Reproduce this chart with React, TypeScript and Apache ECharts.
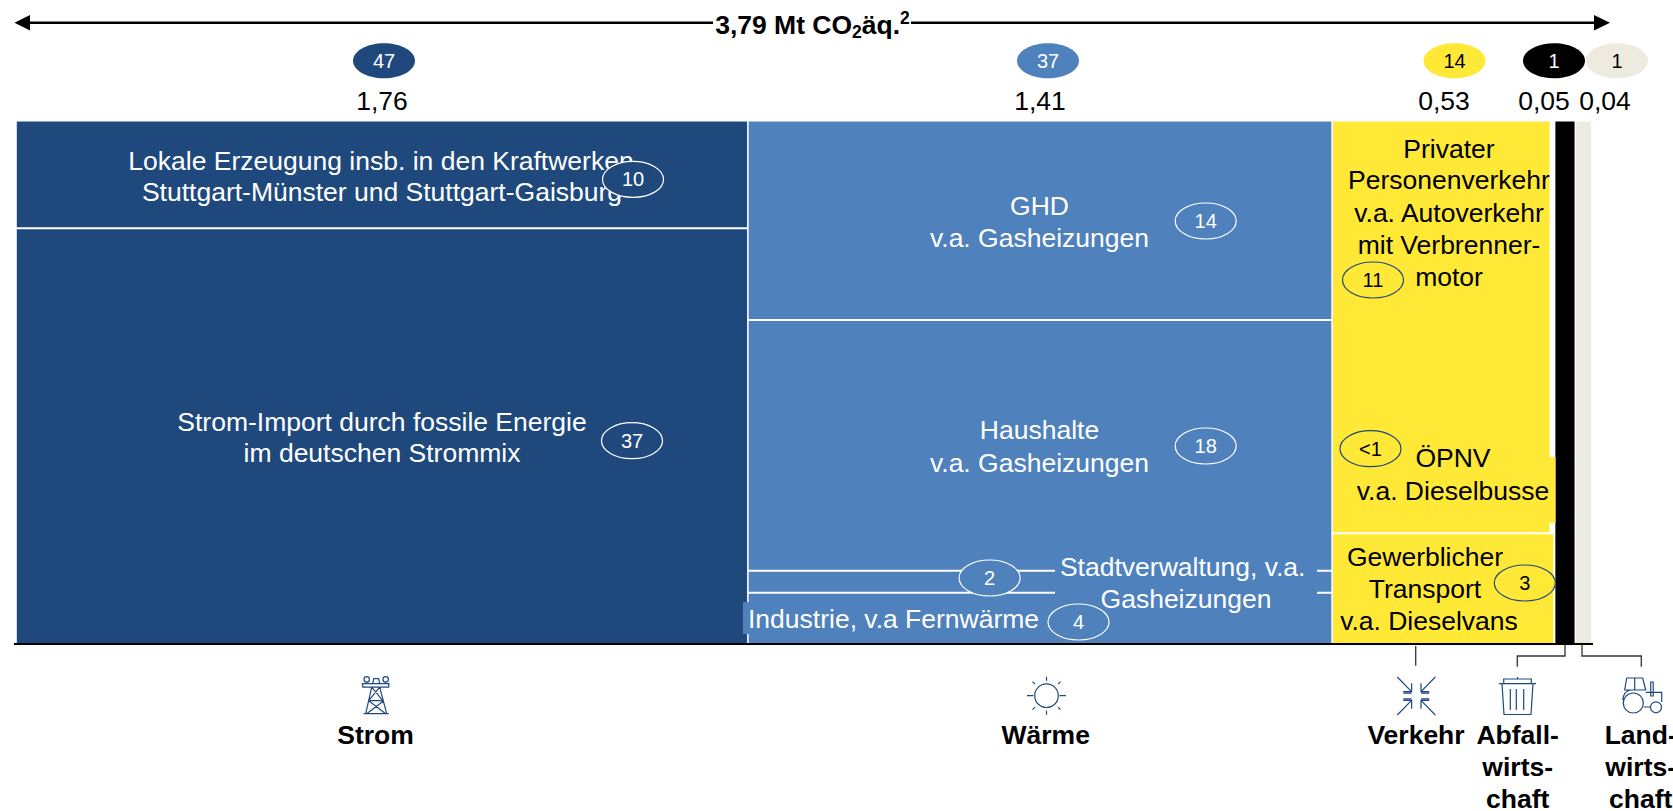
import React, { useEffect, useRef } from "react";
import * as echarts from "echarts";

const categories = ["Strom", "Wärme", "Verkehr", "Abfall-\nwirts-\nchaft", "Land-\nwirts-\nchaft"];
const totals = ["1,76", "1,41", "0,53", "0,05", "0,04"];
const shares = ["47", "37", "14", "1", "1"];
const columnWidths = [1.76, 1.405, 0.535, 0.05, 0.04];
const stromShares = [79.6, 20.4];
const waermeShares = [9.8, 4.2, 48, 38];
const verkehrShares = [21.2, 78.8];
const verkehrWidths = [0.534, 0.525];
const singleShare = [100];
const totalLabel = "3,79 Mt CO";

const DARK = "#1F497D", BLUE = "#4F81BD", YELLOW = "#FFE936", BEIGE = "#EDEBE0", BLACK = "#000000";
const FF = '"Liberation Sans", Arial, sans-serif';
const FS = 26.5;
const GRID = { left: 16, top: 121.6, width: 1576, height: 522.4 };

const columnShares = [stromShares, waermeShares, verkehrShares, singleShare, singleShare];
const columnColors = [DARK, BLUE, YELLOW, BLACK, BEIGE];

function buildSegments() {
  const out: number[][] = [];
  let x = 0;
  columnWidths.forEach((w, c) => {
    let y = 0;
    columnShares[c].forEach((s, i) => {
      const segW = c === 2 ? verkehrWidths[i] : w;
      out.push([x, x + segW, y, y + s, c]);
      y += s;
    });
    x += w;
  });
  return out;
}

const txt = (text: string, x: number, y: number, fill = "#000", size = FS, extra: any = {}) => ({
  type: "text", z: 20,
  style: { text, x, y, fill, font: `${extra.weight || "normal"} ${size}px ${FF}`, align: extra.align || "center", verticalAlign: "middle" },
});

const ell = (cx: number, cy: number, rx: number, ry: number, fill: string, stroke?: string, z = 20) => ({
  type: "ellipse", z, shape: { cx, cy, rx, ry },
  style: { fill, stroke: stroke || "none", lineWidth: stroke ? 1.2 : 0 },
});

const ann = (label: string, cx: number, cy: number, fill: string, stroke: string, color: string) => [
  ell(cx, cy, 30.5, 18, fill, stroke, 21),
  { ...txt(label, cx, cy, color, 20), z: 22 },
];

const seg = (x1: number, y1: number, x2: number, y2: number, stroke = "#333", lineWidth = 1.3) => ({
  type: "line", z: 20, shape: { x1, y1, x2, y2 }, style: { stroke, lineWidth },
});

const ICONS: Record<string, string> = {
  towerIcon:
    "M2.3 2.7a2.7 2.7 0 1 0 5.4 0a2.7 2.7 0 1 0 -5.4 0Z M21.3 2.7a2.7 2.7 0 1 0 5.4 0a2.7 2.7 0 1 0 -5.4 0Z M0 7H28 M1 7V10.5H27V7 M11 7L12 2H17L18 7 M10 10.5L4 37 M18 10.5L25 37 M10 10.5L21 24 M18 10.5L7 24 M7 24H22 M7 24L24 37 M22 24L5 37 M2 37H27 M5 5.4V7 M24 5.4V7",
  sunIcon:
    "M-11.8 0a11.8 11.8 0 1 0 23.6 0a11.8 11.8 0 1 0 -23.6 0Z M0 -19V-15 M0 15V19 M-19.5 0H-13 M13 0H19.5 M-14 -14L-11.5 -11.5 M14 -14L11.5 -11.5 M-14 14L-11.5 11.5 M14 14L11.5 11.5",
  arrowsIcon:
    "M-19 -19L-4.7 -4.3 M-4.7 -12.7V-4.3H-13 M19 -19L4.7 -4.3 M4.7 -12.7V-4.3H13 M-19 19L-4.7 4.3 M-4.7 12.7V4.3H-13 M19 19L4.7 4.3 M4.7 12.7V4.3H13 M-13 -2.8H-4.7 M4.7 -2.8H13 M-13 2.8H-4.7 M4.7 2.8H13",
  binIcon:
    "M0 6.7H37 M4.7 6.7V2H32.3V6.7 M18.5 0V2 M3 6.7L5 37.5H32L34 6.7 M11.3 12V33 M17.3 12V33 M24.7 12V33",
  tractorIcon:
    "M0.6 25a10 10 0 1 0 20 0a10 10 0 1 0 -20 0Z M27.8 29.3a5.5 5.5 0 1 0 11 0a5.5 5.5 0 1 0 -11 0Z M4 0H20L23 12H2Z M12 0V12 M0 22Q1 13 8 12 M23 14.3H39V24 M28 4H30.5V18H28Z M21 29H28",
};
Object.entries(ICONS).forEach(([name, d]) => {
  echarts.graphic.registerShape(name, echarts.graphic.extendPath(d, {}) as any);
});
const icon = (name: string, x: number, y: number) => ({
  type: name, z: 20, x, y,
  style: { fill: "none", stroke: DARK, lineWidth: 1.2 },
});

function buildGraphic() {
  const e: any[] = [];
  // top arrow
  e.push(seg(28, 22.7, 713, 22.7, "#000", 2.5), seg(911, 22.7, 1596, 22.7, "#000", 2.5));
  e.push({ type: "polygon", z: 20, shape: { points: [[14.5, 22.7], [30, 15], [30, 30.5]] }, style: { fill: "#000" } });
  e.push({ type: "polygon", z: 20, shape: { points: [[1610, 22.7], [1594, 15], [1594, 30.5]] }, style: { fill: "#000" } });
  e.push({
    type: "text", z: 20,
    style: {
      text: `{b|${totalLabel}}{s|2}{b|äq.}{u|2}`, x: 812.5, y: 25, align: "center", verticalAlign: "middle",
      fill: "#000",
      rich: {
        b: { font: `bold 26.5px ${FF}`, lineHeight: 32, fill: "#000", verticalAlign: "middle" },
        s: { font: `bold 17.5px ${FF}`, lineHeight: 22, fill: "#000", verticalAlign: "bottom" },
        u: { font: `bold 17.5px ${FF}`, lineHeight: 26, fill: "#000", verticalAlign: "top" },
      },
    },
  });
  // bubbles and totals
  const bubbleX = [384, 1048, 1454.5, 1554, 1617];
  const totalX = [382, 1040, 1444, 1544, 1605];
  const bubbleText = ["#fff", "#fff", "#000", "#fff", "#000"];
  shares.forEach((s, i) => {
    e.push(ell(bubbleX[i], 60.8, 31, 17.5, columnColors[i]));
    e.push(txt(s, bubbleX[i], 61, bubbleText[i], 20));
    e.push(txt(totals[i], totalX[i], 101));
  });
  // label backings
  const back = (x: number, y: number, width: number, height: number, fill: string) => ({
    type: "rect", z: 15, shape: { x, y, width, height }, style: { fill },
  });
  e.push(back(743, 602, 300, 32, BLUE), back(1055, 560, 262, 45, BLUE), back(1340, 457, 215.5, 66, YELLOW));
  // segment labels
  e.push(txt("Lokale Erzeugung insb. in den Kraftwerken", 381, 160.7, "#fff"));
  e.push(txt("Stuttgart-Münster und Stuttgart-Gaisburg", 382, 192, "#fff"));
  e.push(txt("Strom-Import durch fossile Energie", 382, 421.5, "#fff"));
  e.push(txt("im deutschen Strommix", 382, 452.5, "#fff"));
  e.push(txt("GHD", 1039.5, 206, "#fff"));
  e.push(txt("v.a. Gasheizungen", 1039.5, 238, "#fff"));
  e.push(txt("Haushalte", 1039.5, 430, "#fff"));
  e.push(txt("v.a. Gasheizungen", 1039.5, 463, "#fff"));
  e.push(txt("Stadtverwaltung, v.a.", 1182.7, 566.7, "#fff"));
  e.push(txt("Gasheizungen", 1186, 599.3, "#fff"));
  e.push(txt("Industrie, v.a Fernwärme", 748, 619.3, "#fff", FS, { align: "left" }));
  e.push(txt("Privater", 1449, 149));
  e.push(txt("Personenverkehr", 1449, 180));
  e.push(txt("v.a. Autoverkehr", 1449, 213));
  e.push(txt("mit Verbrenner-", 1449, 245));
  e.push(txt("motor", 1449, 276.7));
  e.push(txt("ÖPNV", 1453, 458.3));
  e.push(txt("v.a. Dieselbusse", 1453, 490.7));
  e.push(txt("Gewerblicher", 1425, 556.7));
  e.push(txt("Transport", 1425, 589));
  e.push(txt("v.a. Dieselvans", 1429, 620.7));
  // annotation ellipses
  e.push(...ann("10", 633, 179.4, DARK, "#fff", "#fff"));
  e.push(...ann("37", 632, 440.7, DARK, "#fff", "#fff"));
  e.push(...ann("14", 1205.7, 221, BLUE, "#fff", "#fff"));
  e.push(...ann("18", 1205.7, 446, BLUE, "#fff", "#fff"));
  e.push(...ann("2", 989.6, 578, BLUE, "#fff", "#fff"));
  e.push(...ann("4", 1078.5, 622, BLUE, "#fff", "#fff"));
  e.push(...ann("11", 1373, 280, YELLOW, DARK, "#000"));
  e.push(...ann("<1", 1370.5, 448.7, YELLOW, DARK, "#000"));
  e.push(...ann("3", 1524.8, 583, YELLOW, DARK, "#000"));
  // baseline and leaders
  e.push(seg(14, 644, 1593, 644, "#000", 2));
  e.push(seg(1415.7, 646, 1415.7, 665.7));
  e.push({ type: "polyline", z: 20, shape: { points: [[1565, 645], [1565, 656], [1517.3, 656], [1517.3, 666.7]] }, style: { stroke: "#333", lineWidth: 1.3, fill: "none" } });
  e.push({ type: "polyline", z: 20, shape: { points: [[1582, 645], [1582, 656], [1641.3, 656], [1641.3, 666.7]] }, style: { stroke: "#333", lineWidth: 1.3, fill: "none" } });
  // icons
  e.push(icon("towerIcon", 361.7, 676.7), icon("sunIcon", 1046.5, 695.7), icon("arrowsIcon", 1416.3, 696), icon("binIcon", 1499, 677), icon("tractorIcon", 1622.7, 678));
  // category labels
  const catX = [375.6, 1045.7, 1416, 1517.7, 1640.7];
  categories.forEach((c, i) => {
    c.split("\n").forEach((line, k) => {
      e.push(txt(line, catX[i], 735 + k * 32, "#000", FS, { weight: "bold" }));
    });
  });
  return e;
}

export default function App() {
  const ref = useRef<HTMLDivElement>(null);
  useEffect(() => {
    const chart = echarts.init(ref.current!, undefined, { renderer: "svg" });
    const INSET = 0.8;
    chart.setOption({
      animation: false,
      backgroundColor: "#fff",
      grid: GRID,
      xAxis: { type: "value", min: 0, max: 3.79, show: false },
      yAxis: { type: "value", min: 0, max: 100, show: false },
      series: [
        {
          type: "custom",
          coordinateSystem: "cartesian2d",
          encode: { x: [0, 1], y: [2, 3] },
          data: buildSegments(),
          renderItem: (_p: any, api: any) => {
            const a = api.coord([api.value(0), api.value(3)]);
            const b = api.coord([api.value(1), api.value(2)]);
            const topGap = api.value(3) >= 99.99 ? 0 : 1;
            const bottomGap = api.value(2) <= 0.01 ? 0 : 1;
            return {
              type: "rect",
              shape: { x: a[0] + INSET, y: a[1] + topGap, width: b[0] - a[0] - 2 * INSET, height: b[1] - a[1] - topGap - bottomGap },
              style: { fill: columnColors[api.value(4)] },
            };
          },
        },
      ],
      graphic: { elements: buildGraphic() },
    });
    return () => chart.dispose();
  }, []);
  return <div ref={ref} style={{ position: "fixed", left: 0, top: 0, width: 1673, height: 811, overflow: "hidden" }} />;
}
